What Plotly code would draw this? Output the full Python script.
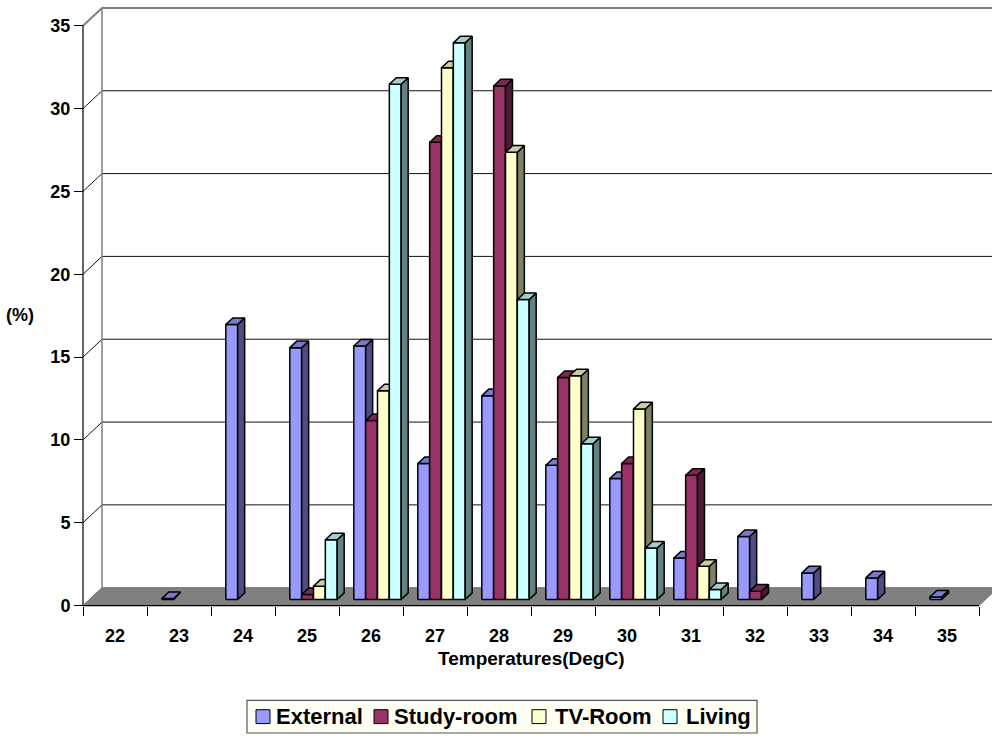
import plotly.graph_objects as go

# ---- data -------------------------------------------------------------
categories = [22, 23, 24, 25, 26, 27, 28, 29, 30, 31, 32, 33, 34, 35]
series_names = ["External", "Study-room", "TV-Room", "Living"]
external = [None, 0.05, 16.6, 15.2, 15.3, 8.2, 12.3, 8.1, 7.3, 2.5, 3.8, 1.6, 1.3, 0.15]
study_room = [None, None, None, 0.3, 10.8, 27.6, 31.0, 13.4, 8.2, 7.5, 0.5, None, None, None]
tv_room = [None, None, None, 0.8, 12.6, 32.1, 27.0, 13.5, 11.5, 2.0, None, None, None, None]
living = [None, None, None, 3.6, 31.1, 33.6, 18.1, 9.4, 3.1, 0.6, None, None, None, None]
y_ticks = [0, 5, 10, 15, 20, 25, 30, 35]

series_values = [external, study_room, tv_room, living]
front_colors = ["#9999FF", "#993366", "#FFFFCC", "#CCFFFF"]
top_colors = ["#7A7ACC", "#7A2952", "#CCCCA3", "#A3CCCC"]
side_colors = ["#4D4D80", "#4D1A33", "#808066", "#668080"]

# ---- page geometry (pixels) --------------------------------------------
W, H = 992, 740
PLOT_LEFT, PLOT_RIGHT = 75, 992
AXIS_X = 83            # front-left corner of the floor
CAT_PX = 64            # width of one category
ZERO_Y = 610.5         # front baseline
UNIT_PX = 584.5 / 35   # pixels per percent
PLOT_TOP, PLOT_BOTTOM = 5, 615

x_lo = -0.5 - (AXIS_X - PLOT_LEFT) / CAT_PX
x_hi = -0.5 + (PLOT_RIGHT - AXIS_X) / CAT_PX
y_lo = -(PLOT_BOTTOM - ZERO_Y) / UNIT_PX
y_hi = (ZERO_Y - PLOT_TOP) / UNIT_PX

# depth of the 3-D box, in data units
DX = 19 / CAT_PX
DY = 18 / UNIT_PX
BAR_Z0 = 6.5 / 19      # where the bars' front faces sit inside the depth
BAR_DZ = 7 / 19        # bar depth
BAR_W = 0.185
n_cat = len(categories)
FONT = "Liberation Sans, Arial, sans-serif"

fig = go.Figure()


def poly(xs, ys, fill, line_color="black", width=1.5):
    fig.add_trace(go.Scatter(
        x=list(xs) + [xs[0]], y=list(ys) + [ys[0]], mode="lines",
        fill="toself", fillcolor=fill,
        line=dict(color=line_color, width=width),
        hoverinfo="skip", showlegend=False))


def polyline(xs, ys, color, width):
    fig.add_trace(go.Scatter(
        x=xs, y=ys, mode="lines", line=dict(color=color, width=width),
        hoverinfo="skip", showlegend=False, connectgaps=False))


# back-wall gridlines with their run along the left side wall
gx, gy = [], []
for v in y_ticks[1:-1]:
    gx += [-0.5, -0.5 + DX, x_hi + 1, None]
    gy += [v, v + DY, v + DY, None]
polyline(gx, gy, "#111111", 1)

# wall outline
polyline([-0.5, -0.5 + DX, x_hi + 1], [35, 35 + DY, 35 + DY], "#808080", 2)
polyline([-0.5 + DX, -0.5 + DX], [DY, 35 + DY], "#808080", 1.5)

# floor
right_edge = -0.5 + n_cat
poly([-0.5, right_edge, right_edge + DX, -0.5 + DX], [0, 0, DY, DY],
     "#808080", line_color="#6e6e6e", width=1)

# front axis lines
polyline([-0.5, -0.5], [0, 35], "black", 1.2)
polyline([-0.5, right_edge], [0, 0], "black", 1.2)

# bars, painted left to right so nearer faces cover farther ones
sx = BAR_Z0 * DX
b0 = BAR_Z0 * DY
ddx = BAR_DZ * DX
ddy = BAR_DZ * DY
for i in range(n_cat):
    for s, vals in enumerate(series_values):
        v = vals[i]
        if v is None:
            continue
        xl = i - 2 * BAR_W + s * BAR_W + sx
        xr = xl + BAR_W
        top = b0 + v
        poly([xl, xr, xr, xl], [b0, b0, top, top], front_colors[s])
        poly([xr, xr + ddx, xr + ddx, xr], [b0, b0 + ddy, top + ddy, top], side_colors[s])
        poly([xl, xr, xr + ddx, xl + ddx], [top, top, top + ddy, top + ddy], top_colors[s])

# ---- legend (drawn box) -------------------------------------------------
def px(x):
    return x / W


def py(y):
    return 1 - y / H


shapes = [dict(type="rect", xref="paper", yref="paper",
               x0=px(247), x1=px(757), y0=py(739), y1=py(706),
               fillcolor="#FFFFF4", line=dict(color="#555555", width=1.2))]
swatch_x = [256, 374, 532, 663]
text_x = [274, 392, 553, 684]
annotations = []
for s, name in enumerate(series_names):
    shapes.append(dict(type="rect", xref="paper", yref="paper",
                       x0=px(swatch_x[s]), x1=px(swatch_x[s] + 14),
                       y0=py(729.5), y1=py(715.5),
                       fillcolor=front_colors[s], line=dict(color="black", width=1)))
    annotations.append(dict(xref="paper", yref="paper", x=px(text_x[s]), y=py(722.5),
                            text=name, showarrow=False, xanchor="left", yanchor="middle",
                            font=dict(family=FONT, size=22, color="black", weight="bold")))

annotations.append(dict(xref="paper", yref="paper", x=px(531), y=py(664),
                        text="Temperatures(DegC)", showarrow=False,
                        xanchor="center", yanchor="middle",
                        font=dict(family=FONT, size=19, color="black", weight="bold")))
annotations.append(dict(xref="paper", yref="paper", x=px(20), y=py(318),
                        text="(%)", showarrow=False, xanchor="center", yanchor="middle",
                        font=dict(family=FONT, size=18, color="black", weight="bold")))

fig.update_layout(
    width=W, height=H,
    margin=dict(l=0, r=0, t=0, b=0),
    paper_bgcolor="white", plot_bgcolor="white",
    showlegend=False,
    shapes=shapes, annotations=annotations,
    xaxis=dict(
        domain=[px(PLOT_LEFT), px(PLOT_RIGHT)], range=[x_lo, x_hi],
        anchor="free", position=py(ZERO_Y),
        tickmode="array", tickvals=list(range(n_cat)),
        ticktext=[str(c) for c in categories],
        ticks="outside", ticklen=14, tickcolor="rgba(0,0,0,0)",
        tickfont=dict(family=FONT, size=18, color="black", weight="bold"),
        minor=dict(tickmode="array", tickvals=[k - 0.5 for k in range(n_cat + 1)],
                   ticks="outside", ticklen=9, tickcolor="black", tickwidth=1.2),
        showline=False, showgrid=False, zeroline=False, fixedrange=True),
    yaxis=dict(
        domain=[py(PLOT_BOTTOM), py(PLOT_TOP)], range=[y_lo, y_hi],
        anchor="free", position=px(AXIS_X),
        tickmode="array", tickvals=y_ticks,
        ticks="outside", ticklen=9, tickcolor="black", tickwidth=1.2,
        tickfont=dict(family=FONT, size=18, color="black", weight="bold"),
        showline=False, showgrid=False, zeroline=False, fixedrange=True),
)

fig.write_html("out.html")
